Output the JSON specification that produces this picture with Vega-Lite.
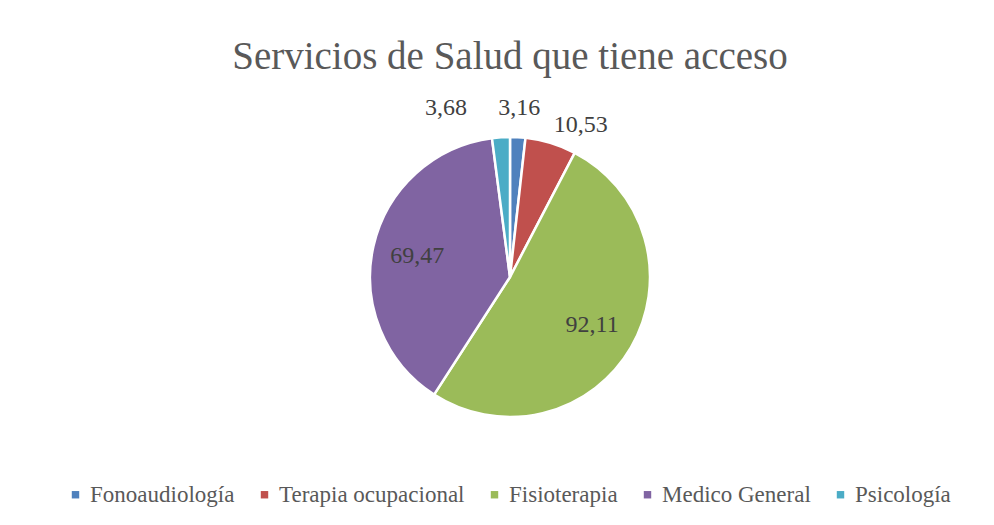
{
  "$schema": "https://vega.github.io/schema/vega-lite/v6.json",
  "autosize": {"type": "none"},
  "width": 280,
  "height": 280,
  "padding": {"left": 370, "top": 137, "right": 344, "bottom": 108},
  "background": "white",
  "title": {
    "text": "Servicios de Salud que tiene acceso",
    "font": "Liberation Serif",
    "fontSize": 39,
    "fontWeight": "normal",
    "color": "#595959",
    "anchor": "middle",
    "offset": 19
  },
  "data": {
    "values": [
      {"categoria": "Fonoaudiología", "valor": 3.16, "etiqueta": "3,16", "orden": 1},
      {"categoria": "Terapia ocupacional", "valor": 10.53, "etiqueta": "10,53", "orden": 2},
      {"categoria": "Fisioterapia", "valor": 92.11, "etiqueta": "92,11", "orden": 3},
      {"categoria": "Medico General", "valor": 69.47, "etiqueta": "69,47", "orden": 4},
      {"categoria": "Psicología", "valor": 3.68, "etiqueta": "3,68", "orden": 5}
    ]
  },
  "encoding": {
    "theta": {"field": "valor", "type": "quantitative", "stack": true},
    "order": {"field": "orden", "type": "quantitative"}
  },
  "layer": [
    {
      "mark": {"type": "arc", "outerRadius": 140, "stroke": "white", "strokeWidth": 2.5},
      "encoding": {
        "color": {
          "field": "categoria",
          "type": "nominal",
          "scale": {
            "domain": ["Fonoaudiología", "Terapia ocupacional", "Fisioterapia", "Medico General", "Psicología"],
            "range": ["#4F81BD", "#C0504D", "#9BBB59", "#8064A2", "#4BACC6"]
          },
          "legend": {
            "title": null,
            "orient": "none",
            "legendX": -306,
            "legendY": 346,
            "direction": "horizontal",
            "symbolType": "square",
            "symbolSize": 55,
            "symbolStrokeWidth": 0,
            "labelFont": "Liberation Serif",
            "labelFontSize": 23,
            "labelColor": "#595959",
            "labelLimit": 400,
            "columnPadding": 18,
            "symbolOffset": 0,
            "labelOffset": 3
          }
        }
      }
    },
    {
      "mark": {"type": "text", "radius": 95, "font": "Liberation Serif", "fontSize": 24, "color": "#404040"},
      "encoding": {
        "text": {"condition": {"test": "datum.valor > 50", "field": "etiqueta"}, "value": ""}
      }
    },
    {
      "mark": {"type": "text", "radius": 169, "font": "Liberation Serif", "fontSize": 24, "color": "#404040"},
      "encoding": {
        "text": {"condition": {"test": "datum.categoria === 'Fonoaudiología'", "field": "etiqueta"}, "value": ""}
      }
    },
    {
      "mark": {"type": "text", "radius": 167, "dx": 22, "dy": 8, "font": "Liberation Serif", "fontSize": 24, "color": "#404040"},
      "encoding": {
        "text": {"condition": {"test": "datum.categoria === 'Terapia ocupacional'", "field": "etiqueta"}, "value": ""}
      }
    },
    {
      "mark": {"type": "text", "radius": 169, "dx": -53, "font": "Liberation Serif", "fontSize": 24, "color": "#404040"},
      "encoding": {
        "text": {"condition": {"test": "datum.categoria === 'Psicología'", "field": "etiqueta"}, "value": ""}
      }
    }
  ],
  "config": {"view": {"stroke": null}}
}
